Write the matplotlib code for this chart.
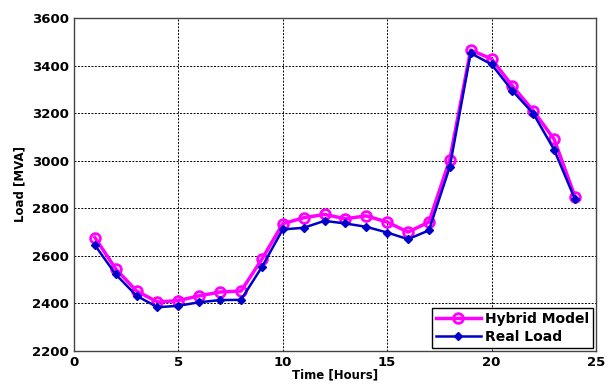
import matplotlib.pyplot as plt

hours = list(range(1, 25))
hybrid_model = [2677, 2545, 2452, 2406, 2412, 2432, 2448, 2452, 2586, 2735,
                2760, 2774, 2756, 2768, 2742, 2700, 2742, 3004, 3465, 3428,
                3314, 3210, 3090, 2848]
real_load = [2645, 2522, 2432, 2384, 2390, 2405, 2414, 2415, 2553, 2711,
             2718, 2747, 2736, 2722, 2698, 2670, 2707, 2974, 3452, 3405,
             3294, 3198, 3046, 2837]

plt.rcParams['font.family'] = 'DejaVu Sans'
plt.rcParams['font.weight'] = 'bold'

fig = plt.figure(figsize=(6.09, 3.9), dpi=100)
ax = fig.add_axes([0.1215, 0.1, 0.857, 0.854])

ax.plot(hours, hybrid_model, color='#ff00ff', lw=2.5, marker='o', ms=7,
        mfc='none', mec='#ff00ff', mew=2, label='Hybrid Model', zorder=3)
ax.plot(hours, real_load, color='#0000c8', lw=1.8, marker='D', ms=4,
        mfc='#0000c8', mec='#0000c8', label='Real Load', zorder=4)

ax.set_xlim(0, 25)
ax.set_ylim(2200, 3600)
ax.set_xticks([0, 5, 10, 15, 20, 25])
ax.set_yticks(range(2200, 3601, 200))
ax.tick_params(labelsize=9.5, direction='in', length=0)
for lbl in ax.get_xticklabels() + ax.get_yticklabels():
    lbl.set_fontweight('bold')
ax.grid(True, color='black', linestyle=(0, (2, 1.5)), linewidth=0.7)
for s in ax.spines.values():
    s.set_color('#444444')
    s.set_linewidth(1.0)

ax.set_xlabel('Time [Hours]', fontsize=8.5, fontweight='bold', labelpad=0)
ax.set_ylabel('Load [MVA]', fontsize=8.5, fontweight='bold', labelpad=4)

leg = ax.legend(loc='lower right', fontsize=10, fancybox=False,
                framealpha=1, edgecolor='black', borderaxespad=0.2,
                handlelength=3.2, handletextpad=0.3, borderpad=0.3,
                labelspacing=0.3)
leg.get_frame().set_linewidth(1.0)
for t in leg.get_texts():
    t.set_fontweight('bold')

fig.savefig('out.png', dpi=100)
